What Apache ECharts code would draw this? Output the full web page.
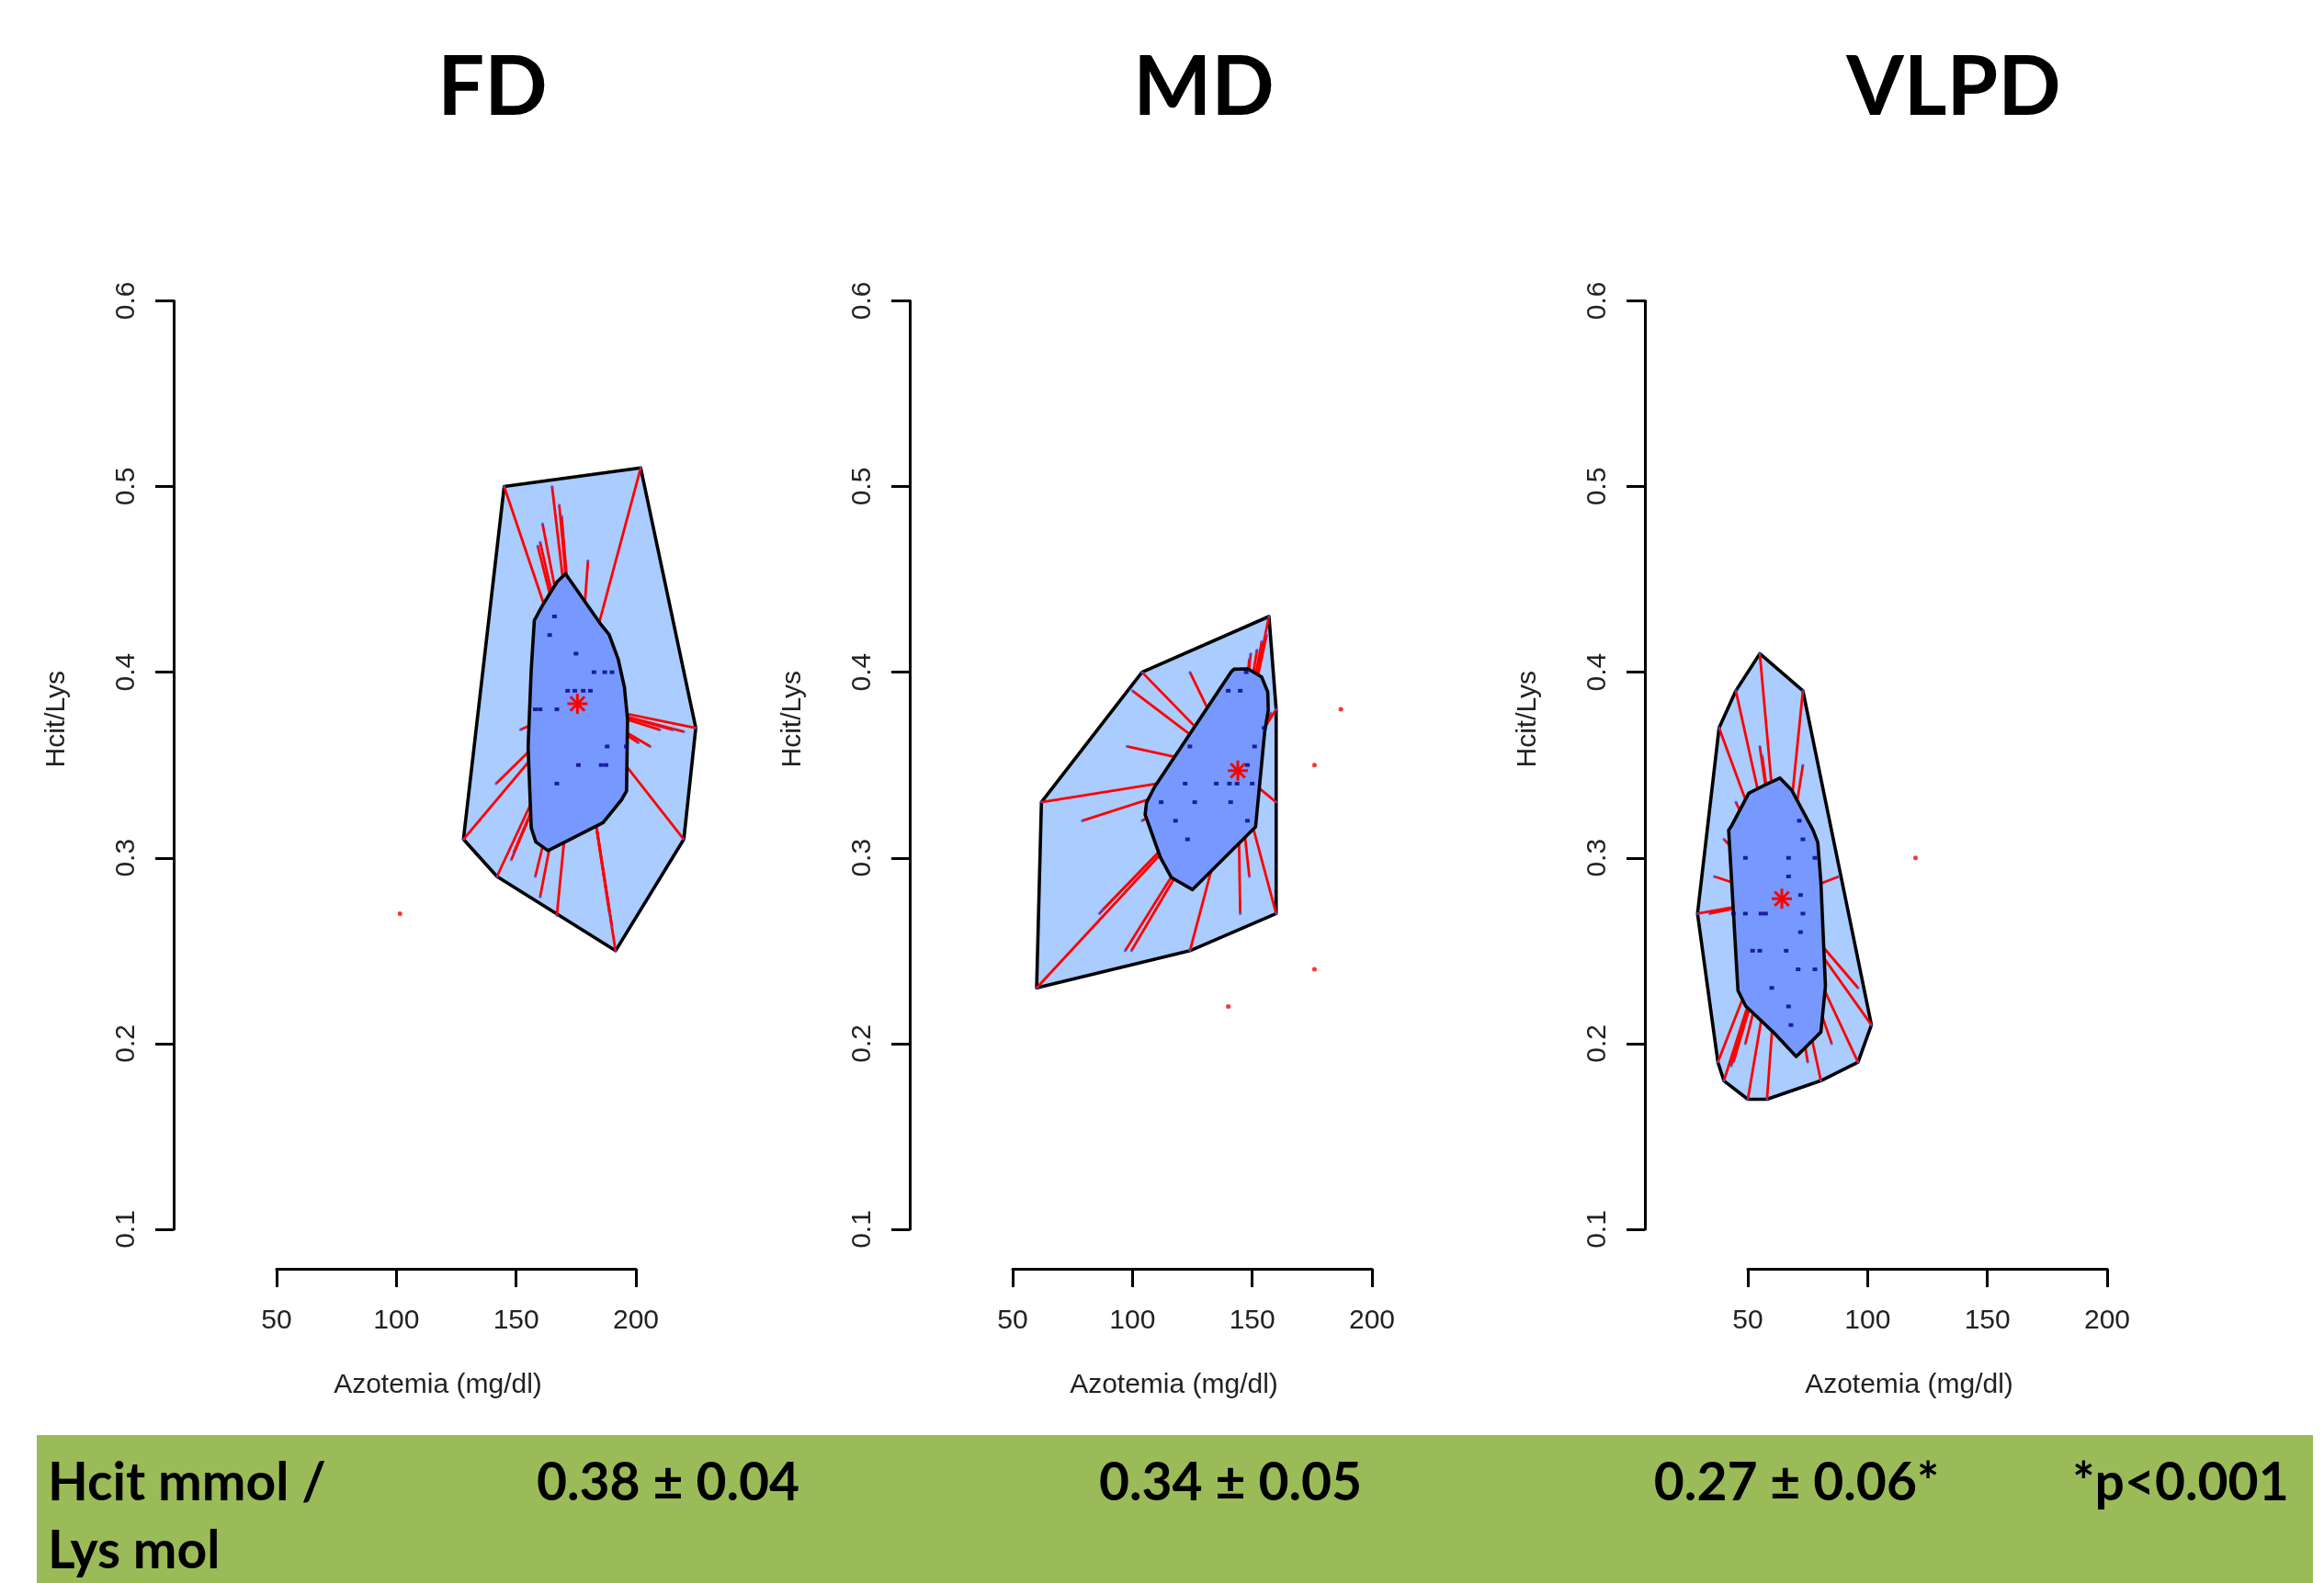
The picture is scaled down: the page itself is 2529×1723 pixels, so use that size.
<!DOCTYPE html>
<html>
<head>
<meta charset="utf-8">
<script src="https://cdn.jsdelivr.net/npm/echarts@6/dist/echarts.min.js"></script>
<style>
html,body{margin:0;padding:0;background:#fff;}
#chart{width:2529px;height:1723px;}
</style>
</head>
<body>
<div id="chart"></div>
<script>
// ---------- DATA (x = Azotemia mg/dl, y = Hcit/Lys) ----------
var panelTitles = ['FD', 'MD', 'VLPD'];
var xTicks = [50, 100, 150, 200];
var yTicks = [0.1, 0.2, 0.3, 0.4, 0.5, 0.6];
var xAxisTitle = 'Azotemia (mg/dl)';
var yAxisTitle = 'Hcit/Lys';

// FD
var fdLoop = [[145,0.50],[202,0.51],[225,0.37],[220,0.31],[191.5,0.25],[142,0.29],[128,0.31]];
var fdBag = [[170.6,0.453],[185,0.4264],[188.8,0.4203],[192.6,0.4071],[195.2,0.3919],[196.5,0.3749],[196.1,0.3361],[194,0.3313],[186.3,0.319],[163.3,0.3039],[158.2,0.3086],[156.3,0.3162],[155,0.3597],[156.3,0.4014],[157.6,0.4279],[160.8,0.4355],[167.1,0.4487]];
var fdLoopPts = [[145,0.50],[202,0.51],[225,0.37],[220,0.31],[191.5,0.25],[142,0.29],[128,0.31],
  [165,0.50],[168,0.49],[169,0.484],[161,0.48],[160,0.47],[159,0.468],[180,0.46],
  [210,0.369],[215.5,0.369],[220,0.368],[206,0.36],[201,0.362],
  [190,0.263],[189,0.27],[167,0.269],[160,0.279],[158,0.29],
  [148,0.299],[149,0.303],[141.6,0.34],[151.8,0.369]];
var fdBagPts = [[166,0.43],[164,0.42],[175,0.41],[182.5,0.40],[187,0.40],[190,0.40],[171.5,0.39],[174.5,0.39],[178,0.39],[181,0.39],[158,0.38],[160,0.38],[167,0.38],[188,0.36],[196,0.36],[176,0.35],[185.5,0.35],[187.5,0.35],[167,0.34]];
var fdCenter = [175.6, 0.383];
var fdOutliers = [[101.5, 0.27]];

// MD
var mdLoop = [[157,0.43],[160,0.38],[160,0.27],[124,0.25],[60,0.23],[62,0.33],[104,0.40]];
var mdBag = [[142.4,0.4016],[148.2,0.4018],[153.9,0.3975],[156.5,0.3893],[156.7,0.3794],[155.2,0.3678],[151.4,0.3167],[125.1,0.2829],[116.2,0.2895],[111.7,0.3002],[105.3,0.3233],[105.9,0.3299],[109.2,0.3381],[130.9,0.3802],[141.1,0.40]];
var mdLoopPts = [[157,0.43],[160,0.38],[160,0.27],[124,0.25],[60,0.23],[62,0.33],[104,0.40],
  [156,0.42],[154,0.4165],[152,0.412],[149.4,0.41],[148.8,0.407],[157.8,0.378],[160,0.33],
  [148.8,0.29],[145,0.27],[97,0.25],[99.6,0.25],[86.2,0.27],[87.5,0.272],
  [79,0.32],[104,0.32],[97.7,0.36],[100,0.39],[124,0.40]];
var mdBagPts = [[147.5,0.40],[140,0.39],[145,0.39],[155,0.37],[124,0.36],[151,0.36],[148,0.35],[122,0.34],[135,0.34],[140.5,0.34],[143.7,0.34],[150,0.34],[112,0.33],[126,0.33],[141,0.33],[118,0.32],[148,0.32],[123,0.31]];
var mdCenter = [144, 0.347];
var mdOutliers = [[187,0.38],[176,0.35],[176,0.24],[140,0.22]];

// VLPD
var vlLoop = [[55,0.41],[73,0.39],[101.6,0.21],[96,0.19],[80.5,0.18],[58,0.17],[50,0.17],[40,0.18],[37.5,0.19],[29,0.27],[38,0.37],[45,0.39]];
var vlBag = [[63.4,0.343],[68.3,0.3365],[77.2,0.315],[79.2,0.3084],[80.5,0.287],[82.4,0.2309],[80.5,0.2062],[70.2,0.193],[60.6,0.2062],[49.1,0.2202],[45.9,0.2285],[42,0.315],[43.3,0.3175],[50.4,0.3348],[52.9,0.3365],[58,0.3398]];
var vlLoopPts = [[55,0.41],[73,0.39],[101.6,0.21],[96,0.19],[80.5,0.18],[58,0.17],[50,0.17],[40,0.18],[37.5,0.19],[29,0.27],[38,0.37],[45,0.39],
  [55,0.36],[56,0.355],[73,0.35],[45,0.33],[40,0.31],[36,0.29],[34,0.27],[88,0.29],
  [96,0.23],[85,0.20],[75,0.19],[49,0.20],[44,0.19],[43,0.188]];
var vlBagPts = [[71.5,0.32],[73,0.31],[49,0.30],[67,0.30],[78,0.30],[67,0.29],[72,0.28],[44,0.27],[49,0.27],[55.5,0.27],[57.4,0.27],[73,0.27],[72,0.26],[52,0.25],[55,0.25],[66,0.25],[71,0.24],[78,0.24],[60,0.23],[67,0.22],[68,0.21]];
var vlCenter = [64.2, 0.278];
var vlOutliers = [[120,0.30]];

// summary band
var bandLabel = ['Hcit mmol /', 'Lys mol'];
var bandValues = ['0.38 \u00b1 0.04', '0.34 \u00b1 0.05', '0.27 \u00b1 0.06*'];
var bandNote = '*p<0.001';

// ---------- CHART ----------
var panels = [
  {loop: fdLoop, bag: fdBag, loopPts: fdLoopPts, bagPts: fdBagPts, center: fdCenter, out: fdOutliers},
  {loop: mdLoop, bag: mdBag, loopPts: mdLoopPts, bagPts: mdBagPts, center: mdCenter, out: mdOutliers},
  {loop: vlLoop, bag: vlBag, loopPts: vlLoopPts, bagPts: vlBagPts, center: vlCenter, out: vlOutliers}
];
var gridLefts = [301, 1102, 1902];
var gridTop = 327.4, gridH = 1010.6, gridW = 391;
var titleX = [536, 1310, 2126];

var axisFont = 'Liberation Sans, Arial, sans-serif';
var grids = [], xAxes = [], yAxes = [], series = [], graphics = [];

function polySeries(pts, gi, fill) {
  return {
    type: 'custom', xAxisIndex: gi, yAxisIndex: gi, clip: false, silent: true,
    data: pts,
    renderItem: function (params, api) {
      if (params.dataIndex !== 0) return null;
      var coords = pts.map(function (p) { return api.coord(p); });
      return {type: 'polygon', shape: {points: coords},
        style: {fill: fill, stroke: '#000', lineWidth: 3.6, lineJoin: 'round'}};
    }
  };
}

panels.forEach(function (p, i) {
  grids.push({left: gridLefts[i], top: gridTop, width: gridW, height: gridH, outerBoundsMode: 'none', containLabel: false});
  xAxes.push({
    type: 'value', gridIndex: i, min: xTicks[0], max: xTicks[xTicks.length - 1], interval: 50,
    offset: 43,
    axisLine: {show: true, onZero: false, lineStyle: {color: '#000', width: 3}},
    axisTick: {show: true, inside: false, length: 20, lineStyle: {color: '#000', width: 3}},
    splitLine: {show: false},
    axisLabel: {show: true, fontSize: 30, fontFamily: axisFont, color: '#222', margin: 42, showMinLabel: true, showMaxLabel: true},
    name: xAxisTitle, nameLocation: 'middle', nameGap: 112,
    nameTextStyle: {fontSize: 30, fontFamily: axisFont, color: '#222', padding: [0, 40, 0, 0]}
  });
  yAxes.push({
    type: 'value', gridIndex: i, min: yTicks[0], max: yTicks[yTicks.length - 1], interval: 0.1,
    offset: 112,
    axisLine: {show: true, onZero: false, lineStyle: {color: '#000', width: 3}},
    axisTick: {show: true, inside: false, length: 20, lineStyle: {color: '#000', width: 3}},
    splitLine: {show: false},
    axisLabel: {show: true, rotate: 90, fontSize: 30, fontFamily: axisFont, color: '#222', margin: 36,
      showMinLabel: true, showMaxLabel: true,
      formatter: function (v) { return v.toFixed(1); }},
    name: yAxisTitle, nameLocation: 'middle', nameGap: 112, nameRotate: 90,
    nameTextStyle: {fontSize: 30, fontFamily: axisFont, color: '#222', padding: [0, 0, 0, 100]}
  });

  // loop (outer hull)
  series.push(polySeries(p.loop, i, '#aaccff'));
  // whiskers: from each loop point towards the center
  (function (center) {
    series.push({
      type: 'custom', xAxisIndex: i, yAxisIndex: i, clip: false, silent: true,
      data: p.loopPts,
      renderItem: function (params, api) {
        var a = api.coord([api.value(0), api.value(1)]);
        var c = api.coord(center);
        return {type: 'line', shape: {x1: a[0], y1: a[1], x2: c[0], y2: c[1]},
          style: {stroke: '#ff0000', lineWidth: 2.8}};
      }
    });
  })(p.center);
  // bag (inner hull)
  series.push(polySeries(p.bag, i, '#7799ff'));
  // bag points
  series.push({type: 'scatter', xAxisIndex: i, yAxisIndex: i, clip: false, silent: true,
    symbol: 'rect', symbolSize: [5, 4], itemStyle: {color: '#000088'}, data: p.bagPts});
  // loop points
  series.push({type: 'scatter', xAxisIndex: i, yAxisIndex: i, clip: false, silent: true,
    symbol: 'circle', symbolSize: 3, itemStyle: {color: '#3355ff'}, data: p.loopPts});
  // outliers
  series.push({type: 'scatter', xAxisIndex: i, yAxisIndex: i, clip: false, silent: true,
    symbol: 'circle', symbolSize: 5, itemStyle: {color: '#ff0000'}, data: p.out});
  // center asterisk
  series.push({
    type: 'custom', xAxisIndex: i, yAxisIndex: i, clip: false, silent: true,
    data: [p.center],
    renderItem: function (params, api) {
      var c = api.coord([api.value(0), api.value(1)]);
      var r = 11, d = r * 0.7071, st = {stroke: '#ff0000', lineWidth: 3};
      return {type: 'group', children: [
        {type: 'line', shape: {x1: c[0] - r, y1: c[1], x2: c[0] + r, y2: c[1]}, style: st},
        {type: 'line', shape: {x1: c[0], y1: c[1] - r, x2: c[0], y2: c[1] + r}, style: st},
        {type: 'line', shape: {x1: c[0] - d, y1: c[1] - d, x2: c[0] + d, y2: c[1] + d}, style: st},
        {type: 'line', shape: {x1: c[0] - d, y1: c[1] + d, x2: c[0] + d, y2: c[1] - d}, style: st}
      ]};
    }
  });

  graphics.push({type: 'text', x: titleX[i], y: 96, style: {
    text: panelTitles[i], font: 'bold 90px Lato, "Open Sans", sans-serif', fill: '#000',
    textAlign: 'center', textVerticalAlign: 'middle', align: 'center', verticalAlign: 'middle'}});
});

// green summary band
graphics.push({type: 'rect', shape: {x: 40, y: 1562, width: 2477, height: 170}, style: {fill: '#9bbb59'}});
var bandFont = 'bold 57px Lato, "Open Sans", sans-serif';
graphics.push({type: 'text', x: 52, y: 1615, style: {text: bandLabel[0], font: bandFont, fill: '#000', align: 'left', verticalAlign: 'middle', textAlign: 'left', textVerticalAlign: 'middle'}});
graphics.push({type: 'text', x: 52, y: 1689, style: {text: bandLabel[1], font: bandFont, fill: '#000', align: 'left', verticalAlign: 'middle', textAlign: 'left', textVerticalAlign: 'middle'}});
var bandX = [727, 1339, 1955];
bandValues.forEach(function (t, i) {
  graphics.push({type: 'text', x: bandX[i], y: 1615, style: {text: t, font: bandFont, fill: '#000', align: 'center', verticalAlign: 'middle', textAlign: 'center', textVerticalAlign: 'middle'}});
});
graphics.push({type: 'text', x: 2373, y: 1615, style: {text: bandNote, font: bandFont, fill: '#000', align: 'center', verticalAlign: 'middle', textAlign: 'center', textVerticalAlign: 'middle'}});

var chart = echarts.init(document.getElementById('chart'), null, {renderer: 'canvas'});
chart.setOption({
  backgroundColor: '#ffffff',
  animation: false,
  grid: grids,
  xAxis: xAxes,
  yAxis: yAxes,
  series: series,
  graphic: {elements: graphics}
});
</script>
</body>
</html>
